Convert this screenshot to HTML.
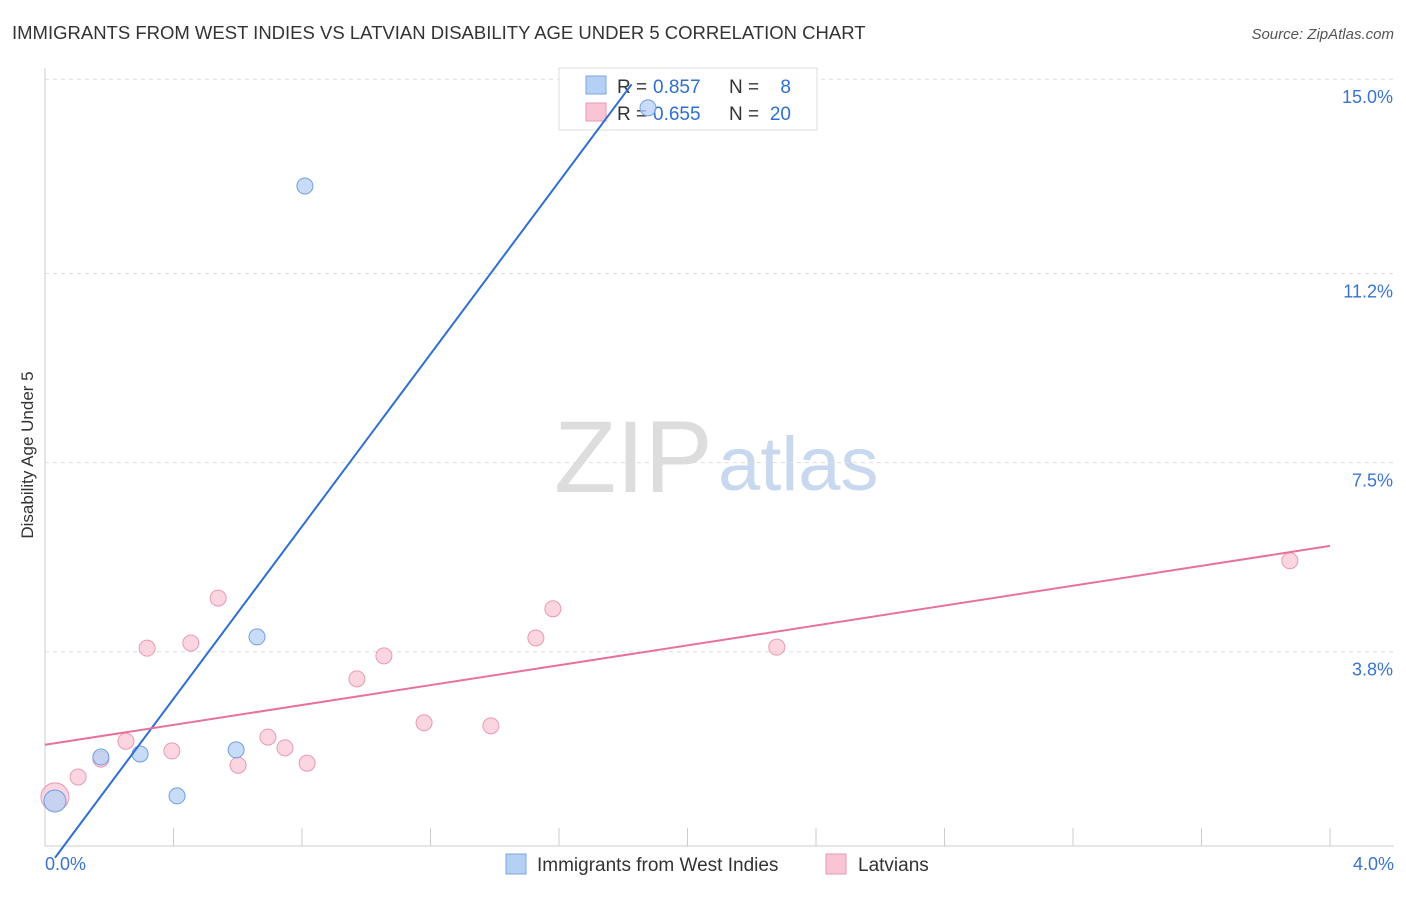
<!DOCTYPE html>
<html><head><meta charset="utf-8"><style>
body{margin:0;background:#fff;font-family:"Liberation Sans",sans-serif;}
svg text{font-family:"Liberation Sans",sans-serif;}
</style></head><body>
<svg id="c" width="1406" height="892">
<text x="12" y="39" font-size="18.5" fill="#333">IMMIGRANTS FROM WEST INDIES VS LATVIAN DISABILITY AGE UNDER 5 CORRELATION CHART</text>
<text x="1394" y="39" font-size="15" fill="#555" font-style="italic" text-anchor="end">Source: ZipAtlas.com</text>
<text x="33" y="455" font-size="17" fill="#333" transform="rotate(-90 33 455)" text-anchor="middle">Disability Age Under 5</text>
<text x="554" y="492" font-size="102" fill="#ddd" font-family="Liberation Serif">ZIP</text>
<text x="718" y="490" font-size="76" fill="#c8d8ee">atlas</text>
<g id="grid"></g>
<g>
<rect x="559" y="68" width="258" height="62" fill="#fff" fill-opacity="0.85" stroke="#ddd"/>
<rect x="586" y="76" width="20" height="18" fill="#b5d0f5" stroke="#7aa6e0"/>
<rect x="586" y="103" width="20" height="18" fill="#f9c4d4" stroke="#e99ab3"/>
<text x="617" y="93" font-size="19" fill="#333">R =</text><text x="653" y="93" font-size="19" fill="#2f6fd0">0.857</text>
<text x="729" y="93" font-size="19" fill="#333">N =</text><text x="791" y="93" font-size="19" fill="#2f6fd0" text-anchor="end">8</text>
<text x="617" y="120" font-size="19" fill="#333">R =</text><text x="653" y="120" font-size="19" fill="#2f6fd0">0.655</text>
<text x="729" y="120" font-size="19" fill="#333">N =</text><text x="791" y="120" font-size="19" fill="#2f6fd0" text-anchor="end">20</text>
</g>
<g id="marks"></g>
<g>
<rect x="506" y="854" width="20" height="20" fill="#b5d0f5" stroke="#7aa6e0"/>
<text x="537" y="871" font-size="19" fill="#333">Immigrants from West Indies</text>
<rect x="826" y="854" width="20" height="20" fill="#f9c4d4" stroke="#e99ab3"/>
<text x="858" y="871" font-size="19" fill="#333">Latvians</text>
</g>
</svg>
<script>
const yTicks=[3.8,7.5,11.2,15.0];
const yTickLabels=["3.8%","7.5%","11.2%","15.0%"];
const xTickLabels=["0.0%","4.0%"];
const blueX=[0.031,0.174,0.296,0.411,0.595,0.660,0.809,1.877];
const blueY=[0.88,1.74,1.80,0.98,1.88,4.09,12.91,14.44];
const pinkX=[0.031,0.103,0.174,0.252,0.318,0.395,0.454,0.539,0.601,0.694,0.747,0.816,0.971,1.055,1.180,1.388,1.528,1.581,2.278,3.875];
const pinkY=[0.96,1.35,1.70,2.05,3.87,1.86,3.97,4.85,1.58,2.13,1.92,1.62,3.27,3.72,2.41,2.35,4.07,4.64,3.89,5.58];
const blueLine=[[0,-0.23],[1.826,14.9]];
const pinkLine=[[0,1.98],[4,5.87]];
const sx=v=>45+v/4*1285, sy=v=>846-v/3.75*191.7;
const NS="http://www.w3.org/2000/svg";
const grid=document.getElementById('grid'),marks=document.getElementById('marks');
function mk(p,tag,a){const e=document.createElementNS(NS,tag);for(const k in a)e.setAttribute(k,a[k]);p.appendChild(e);return e;}
let ax=mk(grid,'line',{x1:45,y1:68,x2:45,y2:846,stroke:'#ccc'});


let bx=mk(grid,'line',{x1:45,y1:846,x2:1394,y2:846,stroke:'#ccc'});


yTicks.forEach((t,i)=>{const y=sy(t);
 let g=mk(grid,'line',{x1:45,y1:y,x2:1394,y2:y,stroke:'#ddd','stroke-dasharray':'4,4'});
 
 
 let l=mk(grid,'text',{x:1393,y:y+24,'font-size':18,fill:'#3a74d0','text-anchor':'end'});l.textContent=yTickLabels[i];
 
 });
for(let i=1;i<=10;i++){const x=sx(i*0.4);let t=mk(grid,'line',{x1:x,y1:828,x2:x,y2:846,stroke:'#ccc'});
 
 }
[[0,45,'start'],[4,1394,'end']].forEach((d,i)=>{let l=mk(grid,'text',{x:d[1],y:870,'font-size':18,fill:'#3a74d0','text-anchor':d[2]});l.textContent=xTickLabels[i];
 
 });
pinkX.forEach((v,i)=>{const r=i==0?14:8;let c=mk(marks,'circle',{cx:sx(v),cy:sy(pinkY[i]),r:r,fill:'#f9c4d4','fill-opacity':0.7,stroke:'#e99ab3'});
 
 });
blueX.forEach((v,i)=>{const r=i==0?11:8;let c=mk(marks,'circle',{cx:sx(v),cy:sy(blueY[i]),r:r,fill:'#b5d0f5','fill-opacity':0.75,stroke:'#6f9fdf'});
 
 });
let bl=mk(marks,'line',{x1:sx(blueLine[0][0])+10,y1:sy(blueLine[0][1]),x2:sx(blueLine[1][0]),y2:sy(blueLine[1][1]),stroke:'#2f6fd0','stroke-width':2});


let pl=mk(marks,'line',{x1:sx(pinkLine[0][0]),y1:sy(pinkLine[0][1]),x2:sx(pinkLine[1][0]),y2:sy(pinkLine[1][1]),stroke:'#e8729a','stroke-width':2});


</script>
</body></html>
